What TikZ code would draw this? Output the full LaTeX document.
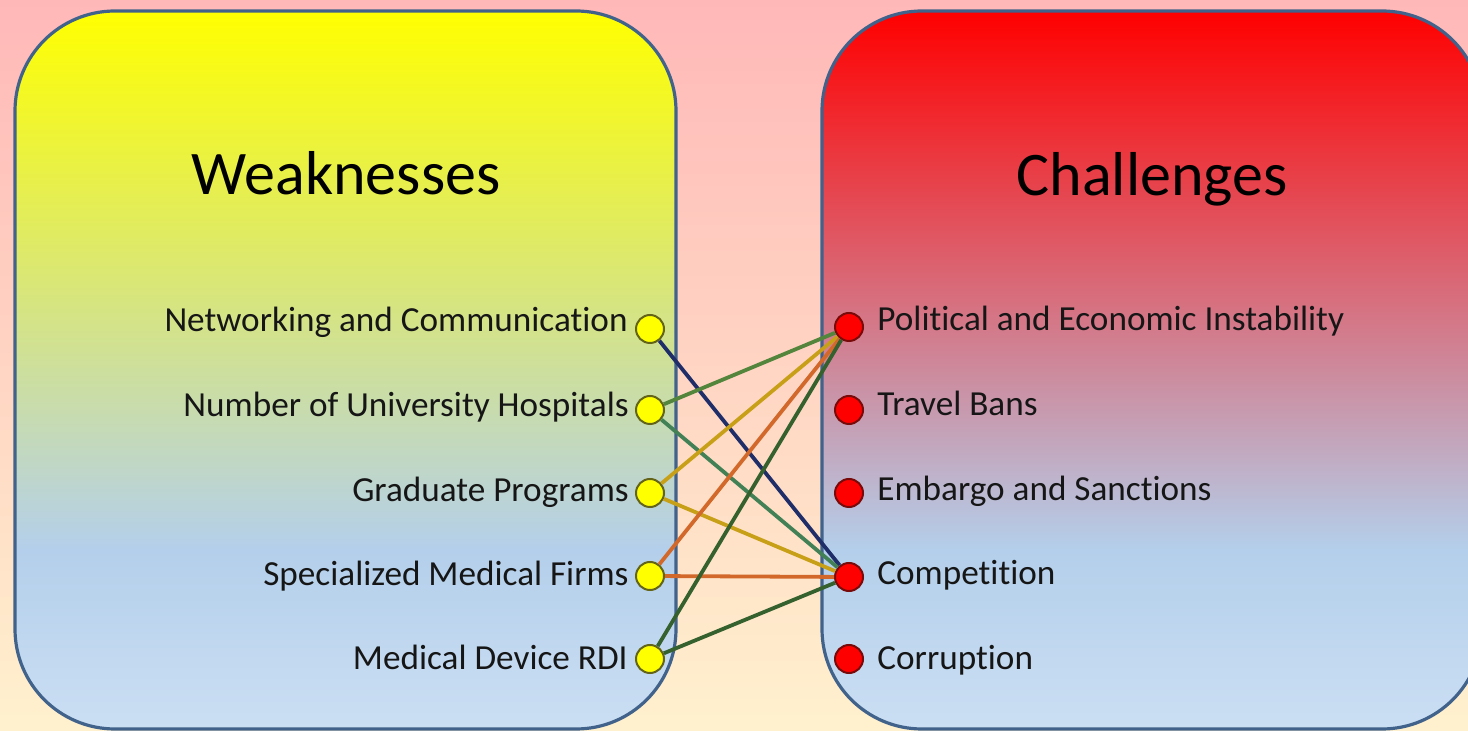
\documentclass[tikz,border=0pt]{standalone}
\usepackage{fontspec}
\setmainfont[Ligatures={NoCommon}]{Carlito}
\definecolor{bgtop}{RGB}{255,184,184}
\definecolor{bgbot}{RGB}{255,241,206}
\definecolor{lyel}{RGB}{255,255,0}
\definecolor{lblue}{RGB}{180,207,235}
\definecolor{lblueb}{RGB}{203,223,243}
\definecolor{rred}{RGB}{255,0,0}
\definecolor{bordercol}{RGB}{65,98,138}
\definecolor{txt}{RGB}{22,22,22}
\definecolor{cnavy}{RGB}{31,45,105}
\definecolor{cgreenA}{RGB}{84,133,60}
\definecolor{cgreenB}{RGB}{66,128,86}
\definecolor{cgold}{RGB}{200,160,24}
\definecolor{corange}{RGB}{210,105,42}
\definecolor{cdkgreen}{RGB}{53,97,47}
\definecolor{ycircb}{RGB}{100,100,25}
\definecolor{rcircb}{RGB}{120,10,10}
\pgfdeclareverticalshading{bgshade}{100bp}{color(0bp)=(bgbot); color(25bp)=(bgbot); color(75bp)=(bgtop); color(100bp)=(bgtop)}
\pgfdeclareverticalshading{leftshade}{100bp}{color(0bp)=(lblueb); color(25bp)=(lblueb); color(37.5bp)=(lblue); color(75bp)=(lyel); color(100bp)=(lyel)}
\pgfdeclareverticalshading{rightshade}{100bp}{color(0bp)=(lblueb); color(25bp)=(lblueb); color(37.5bp)=(lblue); color(75bp)=(rred); color(100bp)=(rred)}
\tikzset{
  panel/.style={shade, draw=bordercol, line width=1.6pt, rounded corners=50pt,
    minimum height=359pt, inner sep=0pt},
  ttl/.style={font=\fontsize{31}{37}\selectfont, text=black, inner sep=0pt, anchor=base},
  lbl/.style={font=\fontsize{17.6}{21}\selectfont, text=txt, inner sep=0pt},
  ycirc/.style={circle, fill=lyel, draw=ycircb, line width=1pt, minimum size=14pt, inner sep=0pt},
  rcirc/.style={circle, fill=rred, draw=rcircb, line width=1pt, minimum size=14pt, inner sep=0pt},
  link/.style={line width=1.9pt}
}
\begin{document}
\begin{tikzpicture}[x=0.5pt,y=-0.5pt]
\useasboundingbox (0,0) rectangle (1468,731);
\clip (0,0) rectangle (1468,731);
\shade[shading=bgshade] (0,0) rectangle (1468,731);
% panels
\node[panel, shading=leftshade, minimum width=330.5pt] (lbox) at (345.5,370) {};
\node[panel, shading=rightshade, minimum width=330pt] (rbox) at (1152,370) {};
% titles
\node[ttl] (tw) at (346,195) {Weaknesses};
\node[ttl] (tc) at (1152,196) {Challenges};
% left labels
\node[lbl, anchor=base east] (lw1) at (628,332) {Networking and Communication};
\node[lbl, anchor=base east] (lw2) at (629,417) {Number of University Hospitals};
\node[lbl, anchor=base east] (lw3) at (629,502) {Graduate Programs};
\node[lbl, anchor=base east] (lw4) at (629,586) {Specialized Medical Firms};
\node[lbl, anchor=base east] (lw5) at (628,670) {Medical Device RDI};
% right labels
\node[lbl, anchor=base west] (lc1) at (877,331) {Political and Economic Instability};
\node[lbl, anchor=base west] (lc2) at (877,416) {Travel Bans};
\node[lbl, anchor=base west] (lc3) at (877,501) {Embargo and Sanctions};
\node[lbl, anchor=base west] (lc4) at (877,585) {Competition};
\node[lbl, anchor=base west] (lc5) at (877,670) {Corruption};
% circles
\node[ycirc] (w1) at (650,329) {};
\node[ycirc] (w2) at (650,410) {};
\node[ycirc] (w3) at (650,493) {};
\node[ycirc] (w4) at (650,576) {};
\node[ycirc] (w5) at (650,659) {};
\node[rcirc] (c1) at (849,327) {};
\node[rcirc] (c2) at (849,410) {};
\node[rcirc] (c3) at (849,493) {};
\node[rcirc] (c4) at (849,577) {};
\node[rcirc] (c5) at (849,659) {};
% links
\draw[link, cnavy] (w1) -- (c4);
\draw[link, cgreenA] (w2) -- (c1);
\draw[link, cgreenB] (w2) -- (c4);
\draw[link, cgold] (w3) -- (c1);
\draw[link, cgold] (w3) -- (c4);
\draw[link, corange] (w4) -- (c1);
\draw[link, corange] (w4) -- (c4);
\draw[link, cdkgreen] (w5) -- (c1);
\draw[link, cdkgreen] (w5) -- (c4);
\end{tikzpicture}
\end{document}
